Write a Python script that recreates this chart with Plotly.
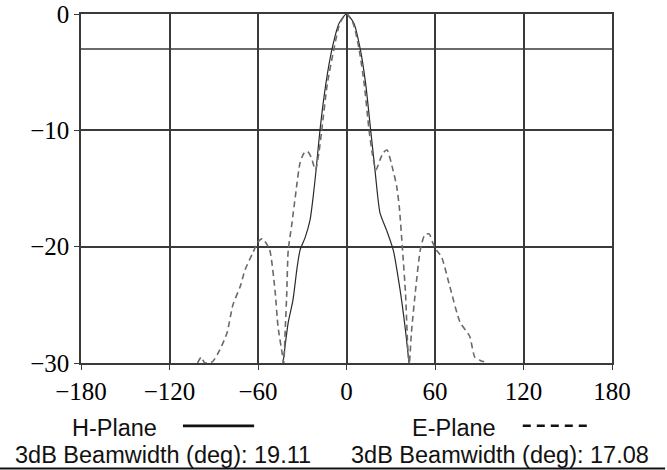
import plotly.graph_objects as go

# H-Plane (solid) pattern, angle in degrees and level in dB
h_angle = [-43, -41.7, -39.5, -36.3, -33.5, -31.5, -28, -24.7, -22.5, -20.7, -18, -14,
           -9.8, -5, 0, 5, 9.3, 13, 16.4, 19.3, 22.7, 27.2, 31.7, 36.3, 39.7, 42.4]
h_db = [-30, -28.6, -26.5, -24.6, -21.8, -20.3, -19.2, -17.7, -15.6, -13.5, -10, -6,
        -3, -0.8, 0, -0.8, -3, -6, -10, -13.4, -17.1, -18.6, -20.3, -23.7, -26.9, -30]

# E-Plane (dashed) pattern
e_angle = [-101, -98.5, -96, -91, -86, -81, -77, -72, -68.8, -63.4, -60, -57, -55, -52,
           -48.5, -46.4, -43.7, -42.6, -41.5, -40.5, -39.5, -37, -34.5, -31.5, -29, -26.5,
           -24, -21, -18.8, -16.8, -13, -8.5, -4.5, 0, 4.5, 8.5, 12, 15.3, 17.5, 20,
           22.5, 25, 27.5, 31.5, 34, 35.8, 38, 40, 41.7, 42.6, 44, 47, 50, 53, 56, 58.6,
           61, 64.5, 70, 77, 83.5, 87, 91, 96]
e_db = [-30, -29.5, -30, -29.9, -28.9, -27.4, -25, -23.4, -22, -20.5, -19.6, -19.3, -19.6, -20.3,
        -23.7, -26.9, -29.1, -30, -27, -24, -20.3, -18, -15.5, -12.8, -12, -11.8,
        -12.3, -13.4, -12, -10, -6, -3, -0.8, 0, -0.8, -3, -6, -10, -12, -13.4,
        -12.6, -11.9, -11.7, -13.4, -14.8, -16.6, -20.3, -24, -29, -30, -27.4, -23.5, -20.3, -19, -18.9, -19.7,
        -20.3, -20.9, -23.4, -26.5, -27.7, -29.5, -29.8, -30]

x_ticks = [-180, -120, -60, 0, 60, 120, 180]
y_ticks = [-30, -20, -10, 0]
ref_level = -3

grid = "#3a3a3a"
tick_font = dict(family="Liberation Serif", size=25, color="#000")
cap_font = dict(family="Liberation Sans", size=23.5, color="#111")

fig = go.Figure()
fig.add_trace(go.Scatter(x=h_angle, y=h_db, mode="lines", name="H-Plane",
                         line=dict(color="#2a2a2a", width=1.2, shape="spline", smoothing=0.6)))
fig.add_trace(go.Scatter(x=e_angle, y=e_db, mode="lines", name="E-Plane",
                         line=dict(color="#6a6a6a", width=1.6, dash="6px,4px",
                                   shape="spline", smoothing=0.6)))

# -3 dB reference line
fig.add_shape(type="line", xref="paper", x0=0, x1=1, yref="y", y0=ref_level, y1=ref_level,
              line=dict(color=grid, width=1.5), layer="below")

# legend-like captions under the plot
captions = [
    ("H-Plane", 0.063, -0.186),
    ("3dB Beamwidth (deg): 19.11", 0.1535, -0.264),
    ("E-Plane", 0.702, -0.186),
    ("3dB Beamwidth (deg): 17.08", 0.789, -0.264),
]
for txt, cx, cy in captions:
    fig.add_annotation(text=txt, xref="paper", yref="paper", x=cx, y=cy,
                       xanchor="center", yanchor="middle", showarrow=False, font=cap_font)

fig.add_shape(type="line", xref="paper", yref="paper", x0=0.192, x1=0.326, y0=-0.18, y1=-0.18,
              line=dict(color="#111", width=2.8))
fig.add_shape(type="line", xref="paper", yref="paper", x0=0.832, x1=0.955, y0=-0.18, y1=-0.18,
              line=dict(color="#111", width=2.5, dash="8px,6px"))
fig.add_shape(type="line", xref="paper", yref="paper", x0=-0.16, x1=1.1, y0=-0.302, y1=-0.302,
              line=dict(color="#111", width=2))

fig.update_layout(
    width=667, height=470,
    margin=dict(l=81, r=55, t=14, b=107),
    paper_bgcolor="white", plot_bgcolor="white",
    showlegend=False,
    xaxis=dict(range=[-180, 180], tickvals=x_ticks, showgrid=True, gridcolor=grid, gridwidth=1.5,
               zeroline=False, showline=True, mirror=True, linecolor=grid, linewidth=1.5,
               ticks="outside", ticklen=5, tickcolor=grid, tickfont=tick_font, automargin=False),
    yaxis=dict(range=[-30, 0], tickvals=y_ticks, showgrid=True, gridcolor=grid, gridwidth=1.5,
               zeroline=False, showline=True, mirror=True, linecolor=grid, linewidth=1.5,
               ticks="outside", ticklen=5, tickcolor=grid, tickfont=tick_font, automargin=False),
)

# drop the browser's default body margin so the figure sits at the page corner
fig.write_html("out.html", config={"displayModeBar": False},
               post_script="document.body.style.margin='0';")
